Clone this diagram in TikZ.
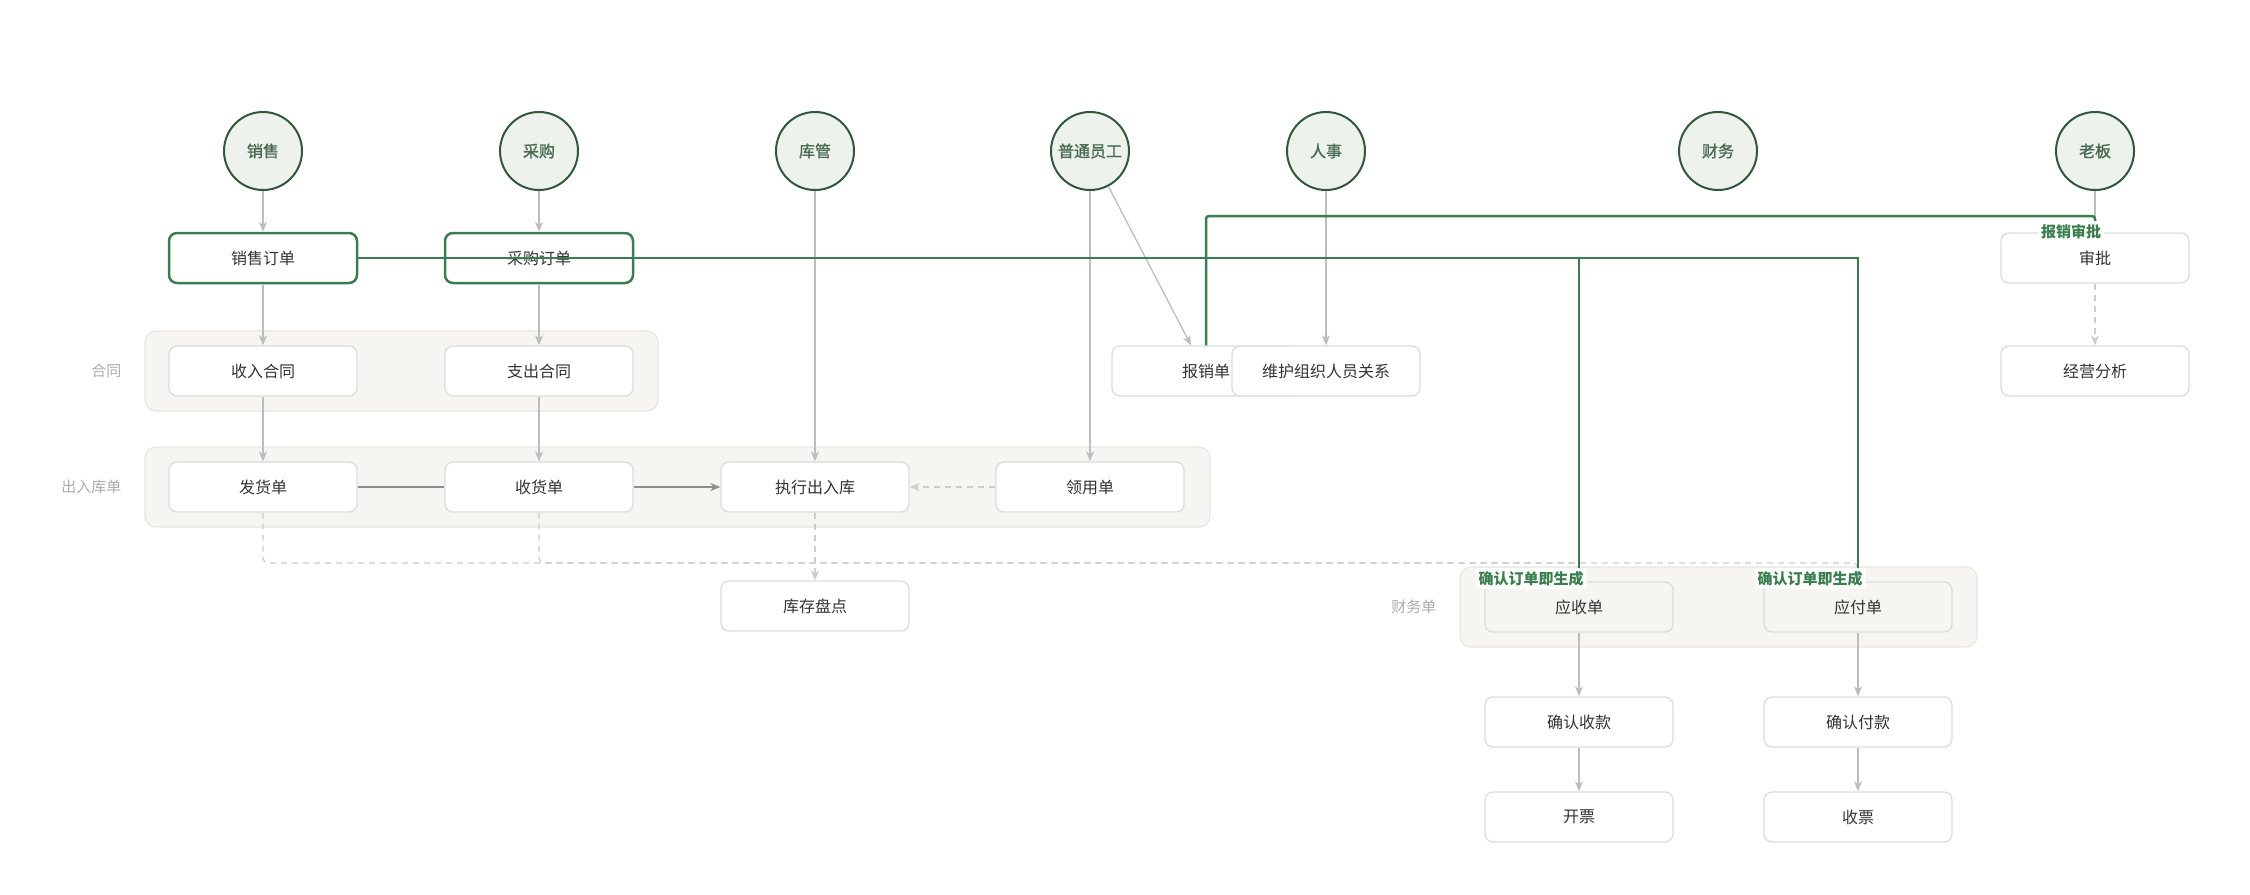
\documentclass[tikz,border=0pt]{standalone}
\usepackage{fontspec}
\setmainfont{Noto Sans CJK SC}
\newfontfamily\rolefnt{Noto Sans CJK SC}[FakeBold=1.3]
\usetikzlibrary{arrows.meta,calc}
\definecolor{rolefill}{HTML}{EEF2ED}
\definecolor{roleline}{HTML}{32573C}
\definecolor{roletext}{HTML}{4A6B52}
\definecolor{gline}{HTML}{3A7D4E}
\definecolor{boxline}{HTML}{DCDCDC}
\definecolor{lanefill}{HTML}{F6F5F1}
\definecolor{laneline}{HTML}{E7E6E1}
\definecolor{arrowgray}{HTML}{BDBDBD}
\definecolor{dashgray}{HTML}{CCCCCC}
\definecolor{darkgray}{HTML}{8E8E8E}
\definecolor{textdark}{HTML}{333333}
\definecolor{lanetext}{HTML}{ABABAB}
\begin{document}
\begin{tikzpicture}[x=1pt,y=-1pt,
  role/.style={circle, draw=roleline, fill=rolefill, line width=2pt, minimum size=78pt, inner sep=0pt, text=roletext, font=\fontsize{16}{19}\rolefnt},
  box/.style={rectangle, rounded corners=8pt, draw=boxline, fill=white, line width=1.3pt, minimum width=188pt, minimum height=50pt, inner sep=0pt, text=textdark, font=\fontsize{16}{19}\selectfont},
  keybox/.style={box, draw=gline, line width=2.5pt},
  lanebox/.style={box, fill=lanefill},
  lane/.style={rounded corners=11pt, draw=laneline, fill=lanefill, line width=1.2pt},
  lanelabel/.style={anchor=east, text=lanetext, font=\fontsize{15}{18}\selectfont},
  tipg/.style={-{Stealth[length=10pt,width=8pt,inset=3pt]}},
  flow/.style={draw=arrowgray, line width=1.3pt, tipg},
  darkflow/.style={draw=darkgray, line width=1.4pt},
  dflow/.style={draw=dashgray, line width=1.3pt, dash pattern=on 6pt off 5pt},
  greenline/.style={draw=gline, line width=2.5pt},
  glabel/.style={fill=white, fill opacity=0.9, text opacity=1, text=gline, font=\fontsize{15}{18}\selectfont\bfseries, inner sep=3pt}
]
\useasboundingbox (0,0) rectangle (2250,894);

% lanes
\draw[lane] (145,331) rectangle (658,411);
\draw[lane] (145,447) rectangle (1210,527);
\draw[lane] (1460,567) rectangle (1977,647);
\node[lanelabel] (lhht) at (125,371) {合同};
\node[lanelabel] (lcrk) at (125,487) {出入库单};
\node[lanelabel] (lcwd) at (1440,607) {财务单};

% roles
\node[role] (cxs) at (263,151) {销售};
\node[role] (ccg) at (539,151) {采购};
\node[role] (ckg) at (815,151) {库管};
\node[role] (cyg) at (1090,151) {普通员工};
\node[role] (crs) at (1326,151) {人事};
\node[role] (ccw) at (1718,151) {财务};
\node[role] (clb) at (2095,151) {老板};

% boxes
\node[keybox] (xsdd) at (263,258) {销售订单};
\node[keybox] (cgdd) at (539,258) {采购订单};
\node[box] (sp) at (2095,258) {审批};
\node[box] (srht) at (263,371) {收入合同};
\node[box] (zcht) at (539,371) {支出合同};
\node[box] (bxd) at (1206,371) {报销单};
\node[box] (whzz) at (1326,371) {维护组织人员关系};
\node[box] (jyfx) at (2095,371) {经营分析};
\node[box] (fhd) at (263,487) {发货单};
\node[box] (shd) at (539,487) {收货单};
\node[box] (zxcrk) at (815,487) {执行出入库};
\node[box] (lyd) at (1090,487) {领用单};
\node[box] (kcpd) at (815,606) {库存盘点};
\node[lanebox] (ysd) at (1579,607) {应收单};
\node[lanebox] (yfd) at (1858,607) {应付单};
\node[box] (qrsk) at (1579,722) {确认收款};
\node[box] (qrfk) at (1858,722) {确认付款};
\node[box] (kp) at (1579,817) {开票};
\node[box] (shp) at (1858,817) {收票};

\coordinate (dy) at (0,563);
\coordinate (gy) at (0,216);
\coordinate (bxin) at ($(bxd.north)+(-15,0)$);

% gray flows
\draw[flow] (cxs) -- (xsdd);
\draw[flow] (ccg) -- (cgdd);
\draw[flow] (xsdd) -- (srht);
\draw[flow] (cgdd) -- (zcht);
\draw[flow] (srht) -- (fhd);
\draw[flow] (zcht) -- (shd);
\draw[flow] (ckg) -- (zxcrk);
\draw[flow] (cyg) -- (lyd);
\draw[flow] (cyg) -- (bxin);
\draw[flow] (crs) -- (whzz);
\draw[flow] (clb) -- (sp);
\draw[flow] (ysd) -- (qrsk);
\draw[flow] (qrsk) -- (kp);
\draw[flow] (yfd) -- (qrfk);
\draw[flow] (qrfk) -- (shp);
\draw[darkflow] (fhd) -- (shd);
\draw[darkflow, tipg] (shd) -- (zxcrk);
\draw[dflow, tipg] (lyd) -- (zxcrk);
\draw[dflow, tipg] (zxcrk) -- (kcpd);
\draw[dflow, tipg] (sp) -- (jyfx);
\draw[dflow, rounded corners=5pt] (fhd.south) -- (fhd.south |- dy) -| (ysd.north);
\draw[dflow, rounded corners=5pt] (shd.south) -- (shd.south |- dy) -| (yfd.north);

% green flows
\draw[greenline, tipg] (xsdd.east) -| (ysd.north);
\draw[greenline, tipg] (cgdd.east) -| (yfd.north);
\draw[greenline, tipg, rounded corners=3pt] (bxd.north) -- (bxd.north |- gy) -| (sp.north);

% green labels
\node[glabel] (lbsp) at ($(sp.north)+(-24,-1)$) {报销审批};
\node[glabel] (lqr1) at ($(ysd.north)+(-48,-3)$) {确认订单即生成};
\node[glabel] (lqr2) at ($(yfd.north)+(-48,-3)$) {确认订单即生成};
\end{tikzpicture}
\end{document}
